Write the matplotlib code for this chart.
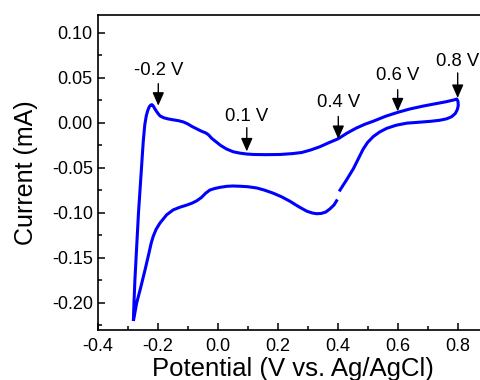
import numpy as np
import matplotlib
matplotlib.use('Agg')
import matplotlib.pyplot as plt
from matplotlib.ticker import MultipleLocator

plt.rcParams['font.family'] = ['Liberation Sans', 'DejaVu Sans']

# forward scan (from -0.28 V up to 0.8 V)
v_fwd = [-0.281, -0.279, -0.276, -0.272, -0.268, -0.264, -0.260, -0.256, -0.252, -0.248,
         -0.243, -0.238, -0.233, -0.228, -0.223, -0.219, -0.215, -0.208, -0.200, -0.192,
         -0.180, -0.165, -0.148, -0.130, -0.115, -0.100, -0.085, -0.070, -0.055, -0.040,
         -0.031, -0.020, -0.005, 0.010, 0.030, 0.052, 0.074, 0.097, 0.120, 0.160,
         0.208, 0.250, 0.280, 0.310, 0.340, 0.370, 0.402, 0.430, 0.460, 0.490,
         0.519, 0.560, 0.602, 0.640, 0.685, 0.720, 0.760, 0.790, 0.797]
i_fwd = [-0.220, -0.200, -0.175, -0.150, -0.125, -0.100, -0.080, -0.060, -0.040, -0.020,
         -0.002, 0.008, 0.014, 0.018, 0.0200, 0.0203, 0.019, 0.015, 0.011, 0.0078,
         0.0058, 0.0045, 0.0035, 0.0025, 0.0012, -0.001, -0.004, -0.0065, -0.009, -0.011,
         -0.013, -0.017, -0.021, -0.025, -0.029, -0.032, -0.0335, -0.0345, -0.035, -0.0352,
         -0.035, -0.034, -0.0328, -0.030, -0.0265, -0.022, -0.0175, -0.0115, -0.006, -0.0015,
         0.002, 0.0075, 0.0120, 0.0155, 0.0188, 0.021, 0.0235, 0.0258, 0.0267]

# reverse scan (0.8 V back to -0.28 V), nan = gap in the recorded curve
v_rev = [0.797, 0.801, 0.802, 0.799, 0.792, 0.780, 0.763, 0.740, 0.708, 0.670,
         0.630, 0.595, 0.563, 0.540, 0.519, 0.500, 0.485, 0.470, 0.452, 0.430,
         0.405, np.nan, 0.399, 0.388, 0.374, 0.360, 0.345, 0.330, 0.315, 0.297,
         0.270, 0.241, 0.213, 0.185, 0.155, 0.130, 0.100, 0.074, 0.050, 0.030,
         0.008, -0.010, -0.026, -0.040, -0.055, -0.070, -0.085, -0.103, -0.125, -0.148,
         -0.170, -0.192, -0.205, -0.215, -0.222, -0.228, -0.235, -0.242, -0.256, -0.270,
         -0.281]
i_rev = [0.0267, 0.024, 0.0195, 0.015, 0.0105, 0.007, 0.0046, 0.003, 0.0018, 0.0008,
         -0.0002, -0.0025, -0.0060, -0.0100, -0.0150, -0.0215, -0.0290, -0.039, -0.051, -0.063,
         -0.076, np.nan, -0.085, -0.091, -0.0955, -0.099, -0.1005, -0.1008, -0.100, -0.098,
         -0.093, -0.087, -0.082, -0.078, -0.0745, -0.0722, -0.0708, -0.0703, -0.0700, -0.0704,
         -0.0715, -0.0728, -0.0745, -0.078, -0.083, -0.0865, -0.089, -0.0912, -0.0935, -0.0965,
         -0.102, -0.111, -0.118, -0.126, -0.134, -0.143, -0.153, -0.163, -0.182, -0.200,
         -0.220]

# marked potentials: label, arrow x, text y, arrow tail y, arrow tip y
marks = ['-0.2 V', '0.1 V', '0.4 V', '0.6 V', '0.8 V']
mark_x = [-0.198, 0.097, 0.402, 0.600, 0.800]
text_y = [0.058, 0.0073, 0.0229, 0.0529, 0.0684]
tail_y = [0.0437, -0.0052, 0.0073, 0.037, 0.0556]
tip_y = [0.0192, -0.0316, -0.0178, 0.0129, 0.0278]

fig = plt.figure(figsize=(4.8, 3.8), dpi=100)
ax = fig.add_axes([0.2035, 0.1316, 0.8125, 0.829])

v = v_fwd + v_rev
i = i_fwd + i_rev
ax.plot(v, i, color='#0000FF', lw=2.2, solid_capstyle='butt', solid_joinstyle='round')

for lab, x, ty, t0, t1 in zip(marks, mark_x, text_y, tail_y, tip_y):
    ax.text(x, ty, lab, ha='center', va='center', fontsize=13.3)
    ax.annotate('', xy=(x, t1), xytext=(x, t0),
                arrowprops=dict(arrowstyle='-|>,head_width=0.35,head_length=0.8',
                                color='black', lw=1.0, mutation_scale=10,
                                shrinkA=0, shrinkB=0))

ax.set_xlim(-0.4, 0.9)
ax.set_ylim(-0.23, 0.12)
ax.xaxis.set_major_locator(MultipleLocator(0.2))
ax.xaxis.set_minor_locator(MultipleLocator(0.1))
ax.yaxis.set_major_locator(MultipleLocator(0.05))
ax.yaxis.set_minor_locator(MultipleLocator(0.025))
ax.xaxis.set_major_formatter(plt.FuncFormatter(lambda t, p: f'{t:.1f}'))
ax.yaxis.set_major_formatter(plt.FuncFormatter(lambda t, p: f'{t:.2f}'))
ax.tick_params(which='both', direction='in', labelsize=13, top=False, right=False)
ax.tick_params(which='major', length=5, width=1.1)
ax.tick_params(axis='x', which='major', pad=6)
ax.tick_params(which='minor', length=3, width=1.1)
for s in ax.spines.values():
    s.set_linewidth(1.2)

ax.set_xlabel('Potential (V vs. Ag/AgCl)', fontsize=18.5, labelpad=1)
ax.set_ylabel('Current (mA)', fontsize=18, labelpad=10)

fig.savefig('out.png', dpi=100)
